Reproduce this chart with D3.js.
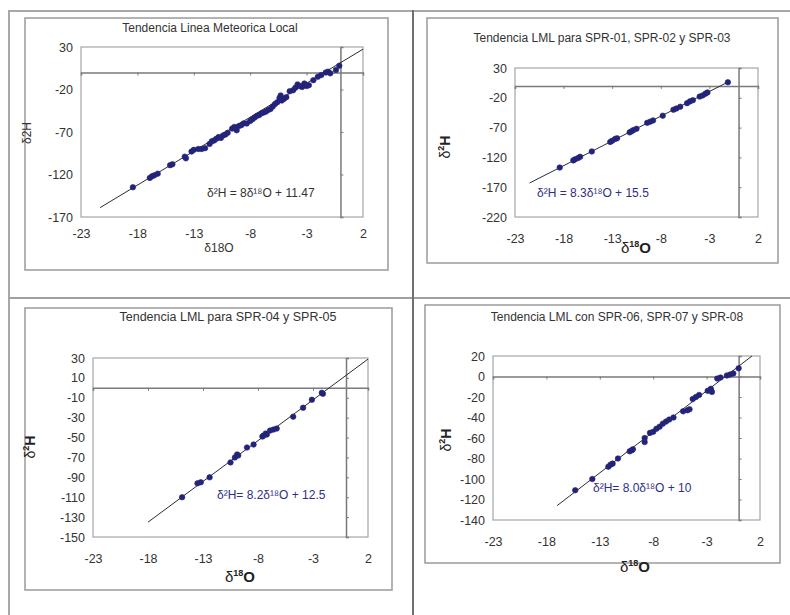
<!DOCTYPE html>
<html>
<head>
<meta charset="utf-8">
<script src="https://cdn.jsdelivr.net/npm/d3@7"></script>
<style>
  body { margin: 0; background: #fff; }
  svg text { font-family: "Liberation Sans", Arial, sans-serif; }
</style>
</head>
<body>
<div id="chart"></div>
<script>
// ---- data ----
const xTicks = [-23, -18, -13, -8, -3, 2];

const titles = [
    "Tendencia Linea Meteorica Local",
    "Tendencia LML para SPR-01, SPR-02 y SPR-03",
    "Tendencia LML para SPR-04 y SPR-05",
    "Tendencia LML con SPR-06, SPR-07 y SPR-08"
];

const yTicks1 = [30, -20, -70, -120, -170];
const yTicks2 = [30, -20, -70, -120, -170, -220];
const yTicks3 = [30, 10, -10, -30, -50, -70, -90, -110, -130, -150];
const yTicks4 = [20, 0, -20, -40, -60, -80, -100, -120, -140];

const equations = [
    "δ²H = 8δ¹⁸O + 11.47",
    "δ²H = 8.3δ¹⁸O + 15.5",
    "δ²H= 8.2δ¹⁸O + 12.5",
    "δ²H= 8.0δ¹⁸O + 10"
];
const slopes = [8, 8.3, 8.2, 8.0];
const intercepts = [11.47, 15.5, 12.5, 10];
const trendFrom = [-21.3, -21.5, -18, -17];
const trendTo = [2, -1, 2, 1.25];

const o18_1 = [-18.4, -16.9, -16.7, -16.5, -16.2, -15.1, -14.9, -13.8, -13.7, -13.2, -13.0, -12.6, -12.3, -12.0,
    -11.6, -11.4, -11.2, -11.0, -10.8, -10.6, -10.4, -10.2, -10.0, -9.6, -9.4, -9.2, -9.0, -8.8, -8.6, -8.3,
    -8.0, -7.8, -7.6, -7.4, -7.2, -7.0, -6.8, -6.6, -6.4, -6.2, -6.0, -5.8, -5.6, -5.4, -5.3, -5.2, -5.0, -4.8,
    -4.5, -4.2, -4.0, -3.8, -3.6, -3.4, -3.2, -3.0, -2.8, -2.4, -2.0, -1.7, -1.3, -1.1, -0.9, -0.4, -0.1];
const h2_1 = [-135, -124, -122, -121, -119, -109, -108, -99, -101, -93, -91, -90, -90, -89,
    -84, -81, -80, -78, -76, -77, -74, -73, -71, -66, -64, -68, -63, -62, -60, -60,
    -57, -55, -53, -51, -50, -48, -47, -46, -44, -43, -40, -37, -35, -30, -27, -33, -31, -29,
    -22, -21, -18, -14, -16, -17, -13, -16, -15, -9, -5, -3, 0, 1, -1, 3, 8];

const o18_2 = [-18.4, -17.0, -16.8, -16.5, -16.3, -15.1, -13.2, -13.0, -12.7, -12.5, -11.2, -11.0, -10.8, -10.5,
    -9.4, -9.1, -8.8, -7.8, -6.7, -6.4, -6.0, -5.3, -5.0, -4.7, -4.0, -3.7, -3.4, -3.2, -1.1];
const h2_2 = [-137, -125, -123, -121, -119, -110, -94, -92, -89, -88, -78, -76, -74, -72,
    -62, -60, -58, -50, -40, -38, -35, -29, -26, -24, -18, -16, -13, -11, 6];

const o18_3 = [-14.9, -13.5, -13.2, -12.4, -10.5, -10.1, -9.9, -9.8, -9.0, -8.4, -7.6, -7.5, -7.3, -7.2,
    -6.9, -6.6, -6.3, -4.8, -3.9, -3.1, -2.2, -2.1];
const h2_3 = [-110, -96, -95, -90, -75, -70, -67, -68, -60, -57, -49, -48, -46, -47,
    -43, -42, -41, -29, -20, -12, -5, -6];

const o18_4 = [-15.3, -13.7, -12.2, -12.0, -11.8, -11.3, -10.2, -10.0, -9.9, -8.8, -8.8, -8.3, -8.0, -7.7,
    -7.4, -7.1, -6.8, -6.5, -6.1, -5.2, -4.8, -4.6, -4.3, -4.0, -3.7, -2.9, -2.6, -2.5, -2.0, -1.7,
    -1.1, -0.8, -0.5, 0.0];
const h2_4 = [-111, -100, -88, -86, -85, -80, -73, -72, -71, -60, -64, -55, -54, -51,
    -49, -46, -44, -42, -40, -34, -33, -32, -22, -20, -18, -14, -12, -15, -2, -1,
    1, 2, 3, 8];

// ---- layout of each panel (pixels) ----
const panels = [
    {box: [25, 18, 388, 270], plot: [81, 47, 363, 217], yDom: [-170, 30], yTicks: yTicks1,
     title: [210, 32, 12], eq: [207, 197], eqColor: "#333", xt: [219, 252], yt: [31, 133], fancy: false,
     xs: o18_1, ys: h2_1},
    {box: [427, 18, 778, 263], plot: [515, 68, 758, 217], yDom: [-220, 30], yTicks: yTicks2,
     title: [602, 42, 12], eq: [537, 197], eqColor: "#2e2e86", xt: [636, 253], yt: [450, 147], fancy: true,
     xs: o18_2, ys: h2_2},
    {box: [25, 308, 392, 590], plot: [93, 358, 368, 537], yDom: [-150, 30], yTicks: yTicks3,
     title: [228, 321, 12.5], eq: [217, 499], eqColor: "#2e2e86", xt: [240, 582], yt: [35, 447], fancy: true,
     xs: o18_3, ys: h2_3},
    {box: [425, 305, 780, 563], plot: [493, 356, 760, 520], yDom: [-140, 20], yTicks: yTicks4,
     title: [617, 321, 12], eq: [593, 492], eqColor: "#2e2e86", xt: [635, 572], yt: [451, 440], fancy: true,
     xs: o18_4, ys: h2_4}
];

const svg = d3.select("#chart").append("svg")
    .attr("width", 790)
    .attr("height", 615);

// table grid behind the four charts
svg.append("line").attr("x1", 9).attr("x2", 790).attr("y1", 11).attr("y2", 11)
    .attr("stroke", "#a8a8a8").attr("stroke-width", 2);
svg.append("line").attr("x1", 9).attr("x2", 9).attr("y1", 10).attr("y2", 615)
    .attr("stroke", "#a8a8a8").attr("stroke-width", 2);
svg.append("line").attr("x1", 9).attr("x2", 790).attr("y1", 298).attr("y2", 298)
    .attr("stroke", "#a0a0a0").attr("stroke-width", 2);
svg.append("line").attr("x1", 413).attr("x2", 413).attr("y1", 10).attr("y2", 615)
    .attr("stroke", "#707070").attr("stroke-width", 2);

const plain = d => String(d);   // hyphen minus, as in the source

panels.forEach((p, i) => {
    const g = svg.append("g");
    const [bx0, by0, bx1, by1] = p.box;
    const [px0, py0, px1, py1] = p.plot;

    g.append("rect")
        .attr("x", bx0).attr("y", by0)
        .attr("width", bx1 - bx0).attr("height", by1 - by0)
        .attr("fill", "#fff").attr("stroke", "#9a9a9a").attr("stroke-width", 1.5);

    g.append("text")
        .attr("x", p.title[0]).attr("y", p.title[1])
        .attr("text-anchor", "middle")
        .attr("font-size", p.title[2])
        .attr("fill", "#333")
        .text(titles[i]);

    const x = d3.scaleLinear().domain([-23, 2]).range([px0, px1]);
    const y = d3.scaleLinear().domain(p.yDom).range([py1, py0]);

    // plot area frame
    g.append("rect")
        .attr("x", px0).attr("y", py0)
        .attr("width", px1 - px0).attr("height", py1 - py0)
        .attr("fill", "none").attr("stroke", "#a6a6a6").attr("stroke-width", 1.2);

    // tick labels along the plot edges
    const xAx = g.append("g")
        .attr("transform", `translate(0,${py1})`)
        .call(d3.axisBottom(x).tickValues(xTicks).tickFormat(plain).tickSize(0).tickPadding(p.fancy ? 17 : 12));
    const yAx = g.append("g")
        .attr("transform", `translate(${px0},0)`)
        .call(d3.axisLeft(y).tickValues(p.yTicks).tickFormat(plain).tickSize(0).tickPadding(8));
    [xAx, yAx].forEach(a => {
        a.select(".domain").remove();
        a.selectAll("text").attr("font-size", 12.5).attr("fill", "#333")
            .style("font-family", "'Liberation Sans', Arial, sans-serif");
    });

    // axes crossing at zero, with their tick marks
    g.append("g")
        .attr("transform", `translate(0,${y(0)})`)
        .call(d3.axisBottom(x).tickValues(xTicks.filter(v => v > -23 && v < 2)).tickSize(3).tickFormat(""))
        .call(a => a.selectAll("line,path").attr("stroke", "#7a7a7a"))
        .call(a => a.select(".domain").attr("stroke-width", 1.5));
    g.append("g")
        .attr("transform", `translate(${x(0)},0)`)
        .call(d3.axisRight(y).tickValues(p.yTicks.filter(v => v !== p.yDom[0] && v !== p.yDom[1])).tickSize(3).tickFormat(""))
        .call(a => a.selectAll("line,path").attr("stroke", "#7a7a7a"))
        .call(a => a.select(".domain").attr("stroke-width", 1.5));

    // trend line
    const tl = [trendFrom[i], trendTo[i]].map(v => [v, slopes[i] * v + intercepts[i]]);
    g.append("path")
        .datum(tl)
        .attr("d", d3.line().x(d => x(d[0])).y(d => y(d[1])))
        .attr("stroke", "#2a2a3a").attr("stroke-width", 1).attr("fill", "none");

    // samples
    g.selectAll(".pt")
        .data(p.xs.map((v, k) => [v, p.ys[k]]))
        .enter()
        .append("path")
        .attr("class", "pt")
        .attr("transform", d => `translate(${x(d[0])},${y(d[1])})`)
        .attr("d", d3.symbol().type(d3.symbolCircle).size(24))
        .attr("fill", "#23237a").attr("stroke", "#23237a").attr("stroke-width", 0.6);

    g.append("text")
        .attr("x", p.eq[0]).attr("y", p.eq[1])
        .attr("font-size", 12)
        .attr("fill", p.eqColor)
        .text(equations[i]);

    // axis titles
    if (!p.fancy) {
        g.append("text")
            .attr("x", p.xt[0]).attr("y", p.xt[1])
            .attr("text-anchor", "middle").attr("font-size", 12).attr("fill", "#333")
            .text("δ18O");
        g.append("text")
            .attr("transform", `translate(${p.yt[0]},${p.yt[1]}) rotate(-90)`)
            .attr("text-anchor", "middle").attr("font-size", 12).attr("fill", "#333")
            .text("δ2H");
    } else {
        const xtEl = g.append("text")
            .attr("x", p.xt[0]).attr("y", p.xt[1])
            .attr("text-anchor", "middle").attr("fill", "#222");
        xtEl.append("tspan").attr("font-size", 15).text("δ");
        xtEl.append("tspan").attr("font-size", 9).attr("font-weight", "bold").attr("dy", -6).text("18");
        xtEl.append("tspan").attr("font-size", 15).attr("font-weight", "bold").attr("dy", 6).text("O");

        const ytEl = g.append("text")
            .attr("transform", `translate(${p.yt[0]},${p.yt[1]}) rotate(-90)`)
            .attr("text-anchor", "middle").attr("fill", "#222");
        ytEl.append("tspan").attr("font-size", 14).text("δ");
        ytEl.append("tspan").attr("font-size", 9).attr("font-weight", "bold").attr("dy", -6).text("2");
        ytEl.append("tspan").attr("font-size", 14).attr("font-weight", "bold").attr("dy", 6).text("H");
    }
});
</script>
</body>
</html>
